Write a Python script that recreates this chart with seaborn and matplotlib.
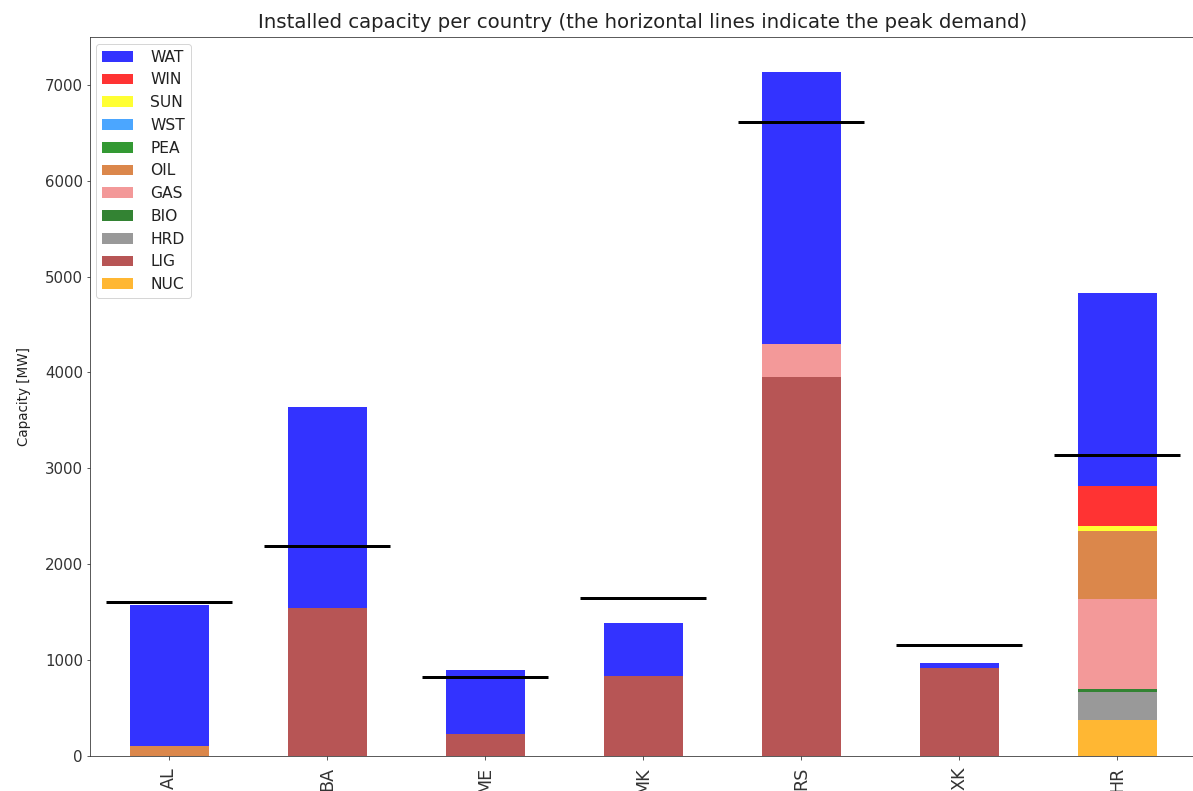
import numpy as np
import pandas as pd
import matplotlib
matplotlib.use("Agg")
import matplotlib.pyplot as plt
import seaborn as sns

# Countries and installed capacity per technology [MW]
countries = ["AL", "BA", "ME", "MK", "RS", "XK", "HR"]

NUC = [0, 0, 0, 0, 0, 0, 366]
LIG = [0, 1535, 227, 829, 3953, 916, 0]
HRD = [0, 0, 0, 0, 0, 0, 296]
BIO = [0, 0, 0, 0, 0, 0, 28]
GAS = [0, 0, 0, 0, 342, 0, 947]
OIL = [104, 0, 0, 0, 0, 0, 707]
PEA = [0, 0, 0, 0, 0, 0, 0]
WST = [0, 0, 0, 0, 0, 0, 0]
SUN = [0, 0, 0, 0, 0, 0, 52]
WIN = [0, 0, 0, 0, 0, 0, 418]
WAT = [1466, 2101, 668, 550, 2845, 53, 2017]

# Peak demand per country [MW]
peak_demand = [1600, 2185, 818, 1640, 6618, 1157, 3135]

# Stacking order, bottom to top, with colours
stack_order = ["NUC", "LIG", "HRD", "BIO", "GAS", "OIL", "PEA", "WST", "SUN", "WIN", "WAT"]
series = {"NUC": NUC, "LIG": LIG, "HRD": HRD, "BIO": BIO, "GAS": GAS, "OIL": OIL,
          "PEA": PEA, "WST": WST, "SUN": SUN, "WIN": WIN, "WAT": WAT}
colors = {"NUC": "orange", "LIG": "brown", "HRD": "grey", "BIO": "darkgreen",
          "GAS": "lightcoral", "OIL": "chocolate", "PEA": "green", "WST": "dodgerblue",
          "SUN": "yellow", "WIN": "red", "WAT": "blue"}

df = pd.DataFrame(series, index=countries)
df.index.name = "country"
df = df.reset_index()

plt.rcParams["font.size"] = 15
plt.rcParams["axes.edgecolor"] = "#333333"
plt.rcParams["xtick.color"] = "#333333"
plt.rcParams["ytick.color"] = "#333333"
plt.rcParams["text.color"] = "#222222"
plt.rcParams["axes.labelcolor"] = "#222222"

fig = plt.figure(figsize=(1193 / 72, 791 / 72), dpi=72)
ax = fig.add_axes([90 / 1193, 35.5 / 791, 1106 / 1193, 718.2 / 791])

bottom = np.zeros(len(countries))
for tech in stack_order:
    sns.barplot(data=df, x="country", y=tech, order=countries, color=colors[tech],
                alpha=0.8, saturation=1, width=0.5, errorbar=None,
                bottom=bottom.copy(), label=tech, linewidth=0, ax=ax)
    bottom += df[tech].to_numpy()

# Peak demand markers centred on each bar
xpos = np.arange(len(countries))
ax.hlines(peak_demand, xpos - 0.4, xpos + 0.4, colors="black", linewidth=3, zorder=5)

ax.set_xlim(-0.5, len(countries) - 0.5)
ax.set_ylim(0, 7497)
ax.set_xlabel("")
ax.set_ylabel("Capacity [MW]", fontsize=13.5, labelpad=14)
ax.set_title("Installed capacity per country (the horizontal lines indicate the peak demand)",
             fontsize=19.8, pad=9)
ax.tick_params(axis="x", labelrotation=90, labelsize=17.5, pad=8)

h, l = ax.get_legend_handles_labels()
lookup = dict(zip(l, h))
legend_order = stack_order[::-1]
ax.legend([lookup[k] for k in legend_order], legend_order, loc="upper left",
          fontsize=15.5, handletextpad=1.1, borderaxespad=0.4)

fig.savefig("out.png", dpi=72)
